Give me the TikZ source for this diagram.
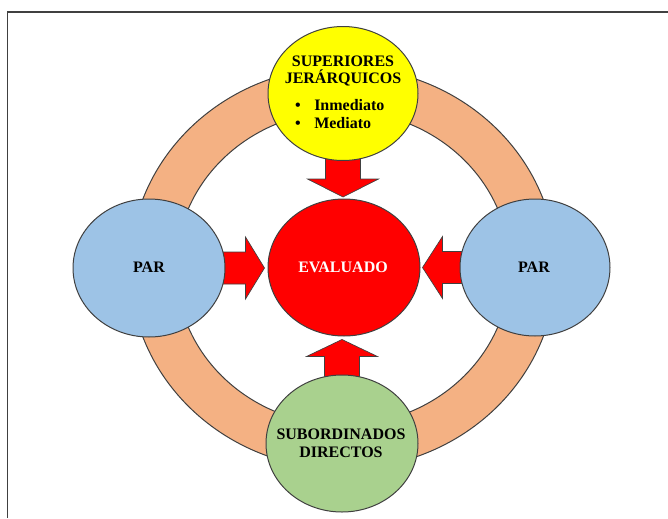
\documentclass[tikz,border=0pt]{standalone}
\usepackage{fontspec}
\setmainfont{Liberation Serif}
\usetikzlibrary{shapes.geometric,backgrounds}
\definecolor{ringc}{HTML}{F4B183}
\definecolor{parc}{HTML}{9DC3E6}
\definecolor{subc}{HTML}{A9D18E}
\definecolor{supc}{HTML}{FFFF00}
\definecolor{evac}{HTML}{FF0000}
\definecolor{edgec}{HTML}{404040}
\tikzset{
  bubble/.style={ellipse, draw=edgec, line width=0.75pt, inner sep=0pt},
  txt/.style={inner sep=0pt, anchor=base, font=\fontsize{12}{13.5}\selectfont\bfseries},
  barrow/.style={fill=evac, draw=edgec, line width=0.5pt, line join=miter},
  ringstyle/.style={fill=ringc, draw=edgec, line width=0.75pt, even odd rule},
  framestyle/.style={draw=black!75, line width=0.9pt}
}
\begin{document}
\begin{tikzpicture}[x=0.75pt,y=-0.75pt]
\useasboundingbox (0,0) rectangle (668,518);
\draw[framestyle] (7.5,518) -- (7.5,12) -- (668,12);

% ellipses
\node[bubble, fill=supc, minimum width=150*0.75pt, minimum height=134*0.75pt] (sup) at (343,93.5) {};
\node[bubble, fill=evac, minimum width=152*0.75pt, minimum height=137*0.75pt] (eva) at (344,267.5) {};
\node[bubble, fill=parc, minimum width=152*0.75pt, minimum height=138*0.75pt] (parl) at (149,268) {};
\node[bubble, fill=parc, minimum width=150*0.75pt, minimum height=137*0.75pt] (parr) at (535,267.5) {};
\node[bubble, fill=subc, minimum width=152*0.75pt, minimum height=137*0.75pt] (sub) at (342,443.5) {};

\begin{pgfonlayer}{background}
% ring
\path[ringstyle] (343,268) ellipse [x radius=213, y radius=201]
                 (343,268) ellipse [x radius=167, y radius=157];
% block arrows
\draw[barrow, shift={(sup.south)}] (-17.5,-4) -- (17.5,-4) -- (17.5,18) -- (35.5,18) -- (0,36) -- (-35.5,18) -- (-17.5,18) -- cycle;
\draw[barrow, shift={(sub.north)}] (-17.5,4) -- (17.5,4) -- (17.5,-18) -- (35.5,-18) -- (0,-35) -- (-35.5,-18) -- (-17.5,-18) -- cycle;
\draw[barrow, shift={(parl.east)}] (-4,-16) -- (20,-16) -- (20,-31) -- (39,0) -- (20,31) -- (20,16) -- (-4,16) -- cycle;
\draw[barrow, shift={(parr.west)}] (4,-16) -- (-17,-16) -- (-17,-31) -- (-37,0) -- (-17,31) -- (-17,16) -- (4,16) -- cycle;
\end{pgfonlayer}

% texts
\node[txt] (t1) at (343,66.5) {SUPERIORES};
\node[txt] (t2) at (343,83.5) {JERÁRQUICOS};
\node[txt] (b1) at (298,110) {•};
\node[txt, anchor=base west] (t3) at (314,110) {Inmediato};
\node[txt] (b2) at (298,128) {•};
\node[txt, anchor=base west] (t4) at (314,128) {Mediato};
\node[txt, text=white] (t5) at (343,272.5) {EVALUADO};
\node[txt] (t6) at (149,272) {PAR};
\node[txt] (t7) at (534,272) {PAR};
\node[txt] (t8) at (341,439) {SUBORDINADOS};
\node[txt] (t9) at (341,457) {DIRECTOS};
\end{tikzpicture}
\end{document}
